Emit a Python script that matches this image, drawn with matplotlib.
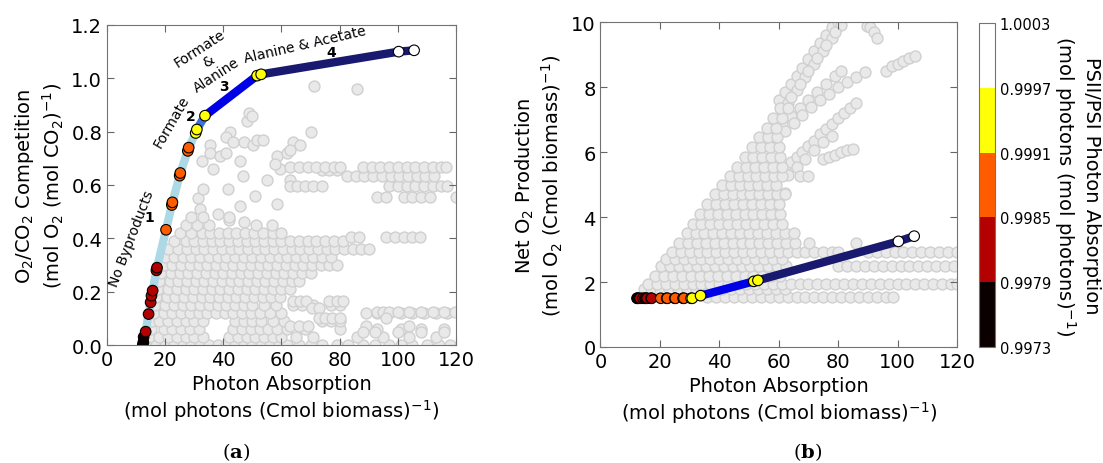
import numpy as np
import matplotlib
matplotlib.use('Agg')
import matplotlib.pyplot as plt
from matplotlib.colors import ListedColormap, BoundaryNorm
import matplotlib.cm as cm

plt.rcParams['font.family'] = 'DejaVu Sans'
plt.rcParams['font.size'] = 14

# optimal trajectory, same solutions in both panels
photon = [12.3, 12.5, 12.6, 13.3, 14.3, 15.0, 15.3, 15.7, 17.0, 17.2, 20.3, 22.3,
          22.5, 25.0, 25.2, 27.8, 28.1, 30.5, 30.9, 33.7, 51.6, 53.0, 100.3, 105.6]
o2_co2 = [0.0, 0.01, 0.03, 0.05, 0.116, 0.16, 0.185, 0.204, 0.28, 0.29, 0.432, 0.525,
          0.535, 0.635, 0.645, 0.728, 0.74, 0.795, 0.808, 0.86, 1.01, 1.015, 1.10, 1.105]
net_o2 = [1.5, 1.5, 1.5, 1.5, 1.5, 1.5, 1.5, 1.5, 1.5, 1.5, 1.5, 1.5,
          1.5, 1.5, 1.5, 1.5, 1.5, 1.5, 1.5, 1.58, 2.02, 2.05, 3.25, 3.41]
psii_psi = [0.9975, 0.9976, 0.9977, 0.9982, 0.9982, 0.9983, 0.9983, 0.9984, 0.9984, 0.9984,
            0.9988, 0.9988, 0.9988, 0.9989, 0.9989, 0.9990, 0.9990, 0.9994, 0.9994, 0.9995,
            0.9996, 0.9996, 1.0000, 1.0001]
cbar_bounds = [0.9973, 0.9979, 0.9985, 0.9991, 0.9997, 1.0003]

# all other solutions (grey cloud), panel a: rows of (y, x values)
cloud_a_rows = [
    (0.00, [14, 17, 20, 23, 26, 29, 32, 35, 38, 41, 44, 47, 50, 53, 56, 59, 62, 66, 70, 74, 79,
            83, 88, 92, 97, 101, 105, 110, 114, 118]),
    (0.03, [14.5, 18, 21, 24, 27, 30, 33, 42, 45, 48, 51, 54, 57, 60, 65, 71, 86, 95, 104, 113]),
    (0.06, [15, 19.5, 22.5, 25.5, 28.5, 31.5, 43.5, 46.5, 49.5, 52.5, 55.5, 58.5, 62, 68, 80, 93, 101, 108, 116]),
    (0.09, [15.5, 18, 21, 24, 27, 30, 33, 44, 47, 50, 53, 57, 61, 74, 77, 80]),
    (0.12, [16, 19.5, 22.5, 25.5, 28.5, 31.5, 34.5, 37.5, 40.5, 43.5, 46.5, 49.5, 52.5, 56, 60,
            89, 93, 97, 101, 105, 109, 113, 117]),
    (0.15, [16.5, 20, 23, 26, 29, 32, 35, 38, 41, 44, 47, 50, 54, 58, 64, 67, 71, 77, 80]),
    (0.18, [17, 20.5, 23.5, 26.5, 29.5, 32.5, 35.5, 38.5, 41.5, 44.5, 47.5, 50.5, 53.5, 56.5, 59.5]),
    (0.21, [17.5, 21, 24, 27, 30, 33, 36, 39, 42, 45, 48, 51, 54, 57, 60, 63]),
    (0.24, [18, 21.5, 24.5, 27.5, 30.5, 33.5, 36.5, 39.5, 42.5, 45.5, 48.5, 51.5, 54.5, 57.5, 60.5, 63.5, 66]),
    (0.27, [18.5, 22, 25, 28, 31, 34, 37, 40, 43, 46, 49, 52, 55, 58, 61, 64, 67, 70]),
    (0.30, [19.5, 22.5, 25.5, 28.5, 31.5, 34.5, 37.5, 40.5, 43.5, 46.5, 49.5, 52.5, 55.5, 58.5, 61.5,
            64.5, 67.5, 70.5, 73.5, 76.5, 79]),
    (0.33, [20, 23, 26, 29, 32, 35, 38, 41, 44, 47, 50, 53, 56, 59, 62, 65, 68, 71, 74, 77]),
    (0.36, [21, 24.5, 27.5, 30.5, 33.5, 36.5, 39.5, 42.5, 45.5, 48.5, 51.5, 54.5, 57.5, 60.5, 63.5,
            66.5, 69.5, 72.5, 75.5, 78.5, 81.5, 84.5, 87.5, 90]),
    (0.39, [23, 27, 30, 33, 36, 39, 42, 45, 48, 51, 54, 57, 60, 63, 66, 69, 72, 75, 78, 81]),
    (0.405, [84, 86.5, 96, 99, 102, 105, 107.5]),
    (0.42, [25, 29, 32.5, 35.5, 38.5, 41.5, 44.5, 47.5, 50.5, 53.5, 57, 60]),
    (0.45, [27, 31, 35, 51.4, 56.6]),
    (0.48, [29, 33, 42]),
    (0.555, [93, 96, 102, 105, 108, 111, 120]),
    (0.596, [63, 65.5, 68, 71, 74, 97, 100, 103, 106, 109, 112, 115, 117]),
    (0.635, [82.5, 85.5, 88.5, 91.5, 94.5, 97.5, 100.5, 103.5, 106.5, 109.5, 112.5]),
    (0.657, [74, 76.5, 79]),
    (0.667, [63, 66, 69, 72, 75, 78, 80, 88, 91, 94, 97, 100, 103, 106, 109, 112, 115, 116.5]),
    (0.166, [64, 66.5, 68.5, 76.5, 79, 81]),
    (0.14, [70.5, 73]),
    (0.123, [93, 95, 97, 100, 104, 108, 112, 116, 119.5]),
    (0.10, [73, 75, 77.5, 80, 96]),
    (0.07, [63, 66, 69, 89, 104]),
    (0.048, [88, 92, 100, 108, 116]),
]
cloud_a_x = [31.3, 32, 33, 32.5, 36.4, 35.4, 35.4, 38.8, 41, 42.3, 41, 43.4, 45.7, 46.7, 45.7,
             41.6, 48, 49, 50, 47, 50.3, 51.5, 53.6, 50.9, 54.9, 58.3, 58.3, 59.4, 57.7, 61.8,
             62.9, 64, 66.3, 63, 70.3, 71.1, 86, 38, 42, 47]
cloud_a_y = [0.55, 0.51, 0.585, 0.69, 0.66, 0.75, 0.72, 0.71, 0.72, 0.80, 0.78, 0.76, 0.69, 0.635, 0.52,
             0.585, 0.84, 0.87, 0.86, 0.76, 0.75, 0.77, 0.77, 0.56, 0.62, 0.53, 0.71, 0.66, 0.68, 0.72,
             0.62, 0.76, 0.75, 0.73, 0.80, 0.97, 0.96, 0.49, 0.47, 0.46]

# panel b: rows of (y, x values)
cloud_b_rows = [
    (1.54, [36, 39, 42, 45, 48, 51, 54, 57, 60, 63, 66, 69, 72, 75, 78, 81, 84, 87, 90, 93, 96, 98.5]),
    (1.80, [14.5, 17, 20, 23, 26, 29, 32, 35, 38, 41, 44, 47, 50, 53, 56, 59, 62]),
    (1.94, [16, 19, 22, 25, 28, 31, 34, 37, 40, 43, 46, 49, 52, 55, 58, 61, 64, 67, 70, 73, 76, 79,
            82, 85, 88, 91, 94, 97, 100, 103, 106, 109, 112, 115, 118, 120]),
    (2.20, [18.5, 21.5, 24.5, 27.5, 30.5, 33.5, 36.5, 39.5, 42.5, 45.5, 48.5, 51.5, 54.5, 57.5, 60.5]),
    (2.50, [20.5, 23.5, 26.5, 29.5, 32.5, 35.5, 38.5, 41.5, 44.5, 47.5, 50.5, 53.5, 56.5, 59.5, 62.5,
            80, 83, 86, 89, 92, 95, 98, 101, 104, 107, 110, 113, 116, 119]),
    (2.70, [22, 25, 28, 31, 34, 37, 40, 43, 46, 49, 52, 55, 58, 61]),
    (2.91, [24, 27, 30, 33, 36, 39, 42, 45, 48, 51, 54, 57, 60, 63, 66, 69, 72, 75, 78, 80,
            90, 93, 96, 99, 102, 105, 108, 111, 114, 117, 120]),
    (3.20, [26.5, 29.5, 32.5, 35.5, 38.5, 41.5, 44.5, 47.5, 50.5, 53.5, 56.5, 59.5, 62.5, 65.5, 70.2, 86]),
    (3.50, [29, 32, 35, 38, 41, 44, 47, 50, 53, 56, 59, 62, 65]),
    (3.80, [31, 34, 37, 40, 43, 46, 49, 52, 55, 58, 61]),
    (4.10, [33.5, 36.5, 39.5, 42.5, 45.5, 48.5, 51.5, 54.5, 57.5, 60.5]),
    (4.40, [36, 39, 42, 45, 48, 51, 54, 57, 60]),
    (4.70, [38.5, 41.5, 44.5, 47.5, 50.5, 53.5, 56.5, 59.5, 62]),
    (5.00, [41, 44, 47, 50, 53, 56, 59]),
    (5.25, [43.5, 46.5, 49.5, 52.5, 55.5, 58.5, 61, 67.3, 69.8]),
    (5.55, [46, 49, 52, 55, 58, 61]),
    (5.85, [48.5, 51.5, 54.5, 57.5, 60.5]),
    (6.15, [51, 54, 57, 60]),
    (6.45, [53.5, 56.5, 59.5]),
    (6.75, [56, 59]),
    (7.05, [58, 61]),
    (7.35, [60.5, 63]),
]
cloud_b_x = [60, 62, 64, 66, 68, 70, 72, 74, 76, 78, 80, 63, 66, 69, 72, 75, 78, 81,
             61, 64, 67, 70, 73, 76, 79,
             58, 61, 64, 67, 70, 73, 76, 79, 81,
             59, 62, 65, 68, 71,
             62, 64, 66, 68, 70, 72, 74, 76, 78, 80, 82, 84, 86,
             63, 66, 69, 72, 75, 78,
             74, 77, 80, 83, 86, 89,
             75, 77, 79, 81, 83, 85,
             58, 60, 62,
             89.8, 90.8, 92, 93, 96, 98, 100, 102, 104, 106]
cloud_b_y = [7.6, 7.85, 8.1, 8.35, 8.6, 8.85, 9.1, 9.35, 9.6, 9.85, 10.0, 7.5, 7.9, 8.3, 8.7, 9.1, 9.5, 9.9,
             7.3, 7.7, 8.1, 8.5, 8.9, 9.3, 9.7,
             6.7, 6.9, 7.1, 7.35, 7.6, 7.85, 8.1, 8.35, 8.5,
             6.45, 6.65, 6.9, 7.15, 7.4,
             5.5, 5.7, 5.85, 6.0, 6.2, 6.35, 6.55, 6.7, 6.85, 7.05, 7.2, 7.35, 7.5,
             5.3, 5.55, 5.8, 6.05, 6.3, 6.5,
             7.6, 7.8, 8.0, 8.15, 8.3, 8.46,
             5.8, 5.85, 5.9, 6.0, 6.05, 6.1,
             4.4, 4.6, 4.75,
             9.89, 9.84, 9.7, 9.5, 8.5, 8.65, 8.7, 8.8, 8.9, 8.95]

seg_colors = ['#add8e6', '#3f6fe0', '#0000e6', '#191970']
seg_idx = [(0, 18), (18, 19), (19, 20), (20, 23)]

cmap = ListedColormap(plt.get_cmap('hot')(np.linspace(0, 1, 5)))
norm = BoundaryNorm(cbar_bounds, cmap.N)


def flatten(rows, xs, ys):
    fx, fy = list(xs), list(ys)
    for y, row in rows:
        fx += row
        fy += [y] * len(row)
    return fx, fy


def draw(ax, yvals, rows, xs, ys):
    gx, gy = flatten(rows, xs, ys)
    ax.scatter(gx, gy, s=62, c='#e9e9e9', edgecolors='#d0d0d0', linewidths=1, zorder=1)
    for (i0, i1), col in zip(seg_idx, seg_colors):
        ax.plot(photon[i0:i1 + 1], yvals[i0:i1 + 1], color=col, lw=6,
                solid_capstyle='round', zorder=2)
    ax.scatter(photon, yvals, c=psii_psi, cmap=cmap, norm=norm, s=58,
               edgecolors='black', linewidths=0.8, zorder=3)
    ax.set_xlim(0, 120)
    ax.set_xticks([0, 20, 40, 60, 80, 100, 120])
    ax.set_xlabel('Photon Absorption\n(mol photons (Cmol biomass)$^{-1}$)')
    ax.tick_params(direction='in', top=True, right=True, length=5, width=0.8,
                   color='0.4', labelsize=14)
    for s in ax.spines.values():
        s.set_color('0.45')


fig = plt.figure(figsize=(11.03, 4.64), dpi=100)
ax1 = fig.add_axes([0.097, 0.2543, 0.3164, 0.6897])
ax2 = fig.add_axes([0.5444, 0.25, 0.3232, 0.7004])
cax = fig.add_axes([0.8876, 0.25, 0.0145, 0.698])

draw(ax1, o2_co2, cloud_a_rows, cloud_a_x, cloud_a_y)
ax1.set_ylim(0, 1.2)
ax1.set_yticks([0.0, 0.2, 0.4, 0.6, 0.8, 1.0, 1.2])
ax1.set_ylabel('O$_2$/CO$_2$ Competition\n(mol O$_2$ (mol CO$_2$)$^{-1}$)')

# regime annotations
ax1.text(8.6, 0.40, 'No Byproducts', rotation=69, fontsize=10, ha='center', va='center')
ax1.text(14.4, 0.48, '1', fontsize=10, fontweight='bold', ha='center', va='center')
ax1.text(22.2, 0.84, 'Formate', rotation=60, fontsize=10, ha='center', va='center')
ax1.text(28.8, 0.86, '2', fontsize=10, fontweight='bold', ha='center', va='center')
ax1.text(34.8, 1.065, 'Formate\n&\nAlanine', rotation=33, fontsize=10, ha='center', va='center',
         multialignment='center', linespacing=1.15)
ax1.text(40.2, 0.97, '3', fontsize=10, fontweight='bold', ha='center', va='center')
ax1.text(68, 1.13, 'Alanine & Acetate', rotation=13, fontsize=10, ha='center', va='center')
ax1.text(77.2, 1.10, '4', fontsize=10, fontweight='bold', ha='center', va='center')

draw(ax2, net_o2, cloud_b_rows, cloud_b_x, cloud_b_y)
ax2.set_ylim(0, 10)
ax2.set_yticks([0, 2, 4, 6, 8, 10])
ax2.set_ylabel('Net O$_2$ Production\n(mol O$_2$ (Cmol biomass)$^{-1}$)')

sm = cm.ScalarMappable(cmap=cmap, norm=norm)
cb = fig.colorbar(sm, cax=cax, boundaries=cbar_bounds, ticks=cbar_bounds)
cb.ax.set_yticklabels(['%.4f' % b for b in cbar_bounds])
cb.ax.tick_params(length=0, labelsize=10.5)
cb.outline.set_edgecolor('0.45')
cb.set_label('PSII/PSI Photon Absorption\n(mol photons (mol photons)$^{-1}$)',
             rotation=270, labelpad=36, fontsize=14)

fig.text(0.214, 0.026, r'($\mathbf{a}$)', ha='center', va='center', fontsize=14,
         family='DejaVu Serif', math_fontfamily='dejavuserif')
fig.text(0.7326, 0.026, r'($\mathbf{b}$)', ha='center', va='center', fontsize=14,
         family='DejaVu Serif', math_fontfamily='dejavuserif')

fig.savefig('out.png', dpi=100)
